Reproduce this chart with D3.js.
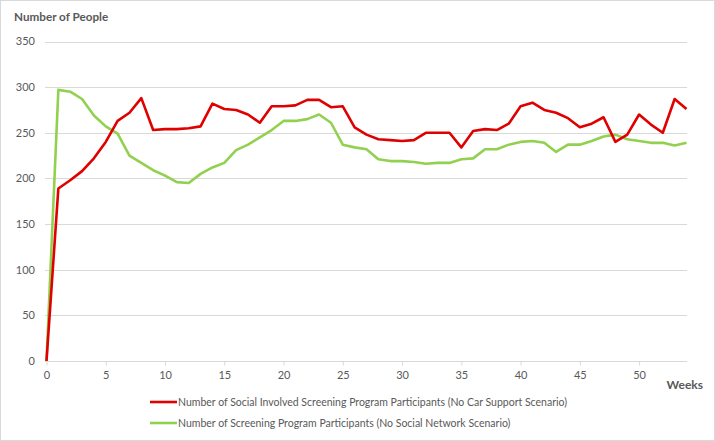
<!DOCTYPE html>
<html>
<head>
<meta charset="utf-8">
<script src="https://cdn.jsdelivr.net/npm/d3@7"></script>
<style>
  html, body { margin: 0; padding: 0; background: #fff; }
  svg { display: block; font-family: Lato, "Open Sans", "Liberation Sans", sans-serif; }
</style>
</head>
<body>
<svg id="chart" width="715" height="441"></svg>
<script>
// ---- data ----
const weeks = d3.range(0, 55);
const redSeriesName = "Number of Social Involved Screening Program Participants (No Car Support Scenario)";
const greenSeriesName = "Number of Screening Program Participants (No Social Network Scenario)";
const redValues = [0, 189, 198, 208, 222, 240, 263, 272, 288, 253, 254, 254, 255, 257, 282, 276, 275, 270, 261, 279,
  279, 280, 286, 286, 278, 279, 256, 248, 243, 242, 241, 242, 250, 250, 250, 234, 252, 254, 253, 260,
  279, 283, 275, 272, 266, 256, 260, 267, 240, 248, 270, 259, 250, 287, 276];
const greenValues = [0, 297, 295, 287, 269, 257, 249, 225, 217, 209, 203, 196, 195, 205, 212, 217, 231, 237, 245, 253,
  263, 263, 265, 270, 261, 237, 234, 232, 221, 219, 219, 218, 216, 217, 217, 221, 222, 232, 232, 237,
  240, 241, 239, 229, 237, 237, 241, 246, 248, 243, 241, 239, 239, 236, 239];
const yTicks = [0, 50, 100, 150, 200, 250, 300, 350];
const xTicks = [0, 5, 10, 15, 20, 25, 30, 35, 40, 45, 50];
const yTitle = "Number of People";
const xTitle = "Weeks";

// ---- layout ----
const svg = d3.select("#chart");
const W = 715, H = 441;
const x = d3.scaleLinear().domain([0, 54]).range([46.5, 686.5]);
const y = d3.scaleLinear().domain([0, 350]).range([361, 41.5]);
const textColor = "#595959";
const gridColor = "#d9d9d9";
const redColor = "#e00000";
const greenColor = "#92d050";

// outer border
svg.append("rect").attr("x", 0.5).attr("y", 0.5).attr("width", W - 1).attr("height", H - 1)
  .attr("fill", "#fff").attr("stroke", gridColor);

// gridlines
svg.append("g").selectAll("line").data(yTicks).join("line")
  .attr("x1", 45).attr("x2", 687)
  .attr("y1", d => Math.round(y(d)) + 0.5).attr("y2", d => Math.round(y(d)) + 0.5)
  .attr("stroke", gridColor).attr("stroke-width", 1);

// y tick labels
svg.append("g").selectAll("text").data(yTicks).join("text")
  .attr("x", 35).attr("y", d => y(d)).attr("dy", "0.35em")
  .attr("text-anchor", "end").attr("fill", textColor).attr("font-size", 11)
  .text(d => d);

// x axis ticks
const xAxis = d3.axisBottom(x).tickValues(xTicks).tickSize(4).tickPadding(6);
const gx = svg.append("g").attr("transform", `translate(0,${Math.round(y(0)) + 0.5})`).call(xAxis);
gx.select(".domain").remove();
gx.selectAll(".tick line").attr("stroke", gridColor);
gx.selectAll(".tick text").attr("fill", textColor).attr("font-size", 11)
  .attr("font-family", "Lato, 'Open Sans', sans-serif");

// titles
svg.append("text").attr("x", 14).attr("y", 21).attr("font-size", 11.7).attr("font-weight", "bold")
  .attr("fill", textColor).text(yTitle);
svg.append("text").attr("x", 703).attr("y", 389).attr("text-anchor", "end").attr("font-size", 12)
  .attr("font-weight", "bold").attr("fill", textColor).text(xTitle);

// lines
const line = d3.line().x((d, i) => x(weeks[i])).y(d => y(d)).curve(d3.curveLinear);
svg.append("path").datum(greenValues).attr("d", line).attr("fill", "none")
  .attr("stroke", greenColor).attr("stroke-width", 2.6).attr("stroke-linejoin", "round");
svg.append("path").datum(redValues).attr("d", line).attr("fill", "none")
  .attr("stroke", redColor).attr("stroke-width", 2.6).attr("stroke-linejoin", "round");

// legend
const legend = [
  { name: redSeriesName, color: redColor, y: 402 },
  { name: greenSeriesName, color: greenColor, y: 423 }
];
const lg = svg.append("g").selectAll("g").data(legend).join("g");
lg.append("line").attr("x1", 150).attr("x2", 177).attr("y1", d => d.y).attr("y2", d => d.y)
  .attr("stroke", d => d.color).attr("stroke-width", 2.6);
lg.append("text").attr("x", 178).attr("y", d => d.y).attr("dy", "0.35em")
  .attr("font-size", 10.5).attr("fill", textColor).text(d => d.name);
</script>
</body>
</html>
